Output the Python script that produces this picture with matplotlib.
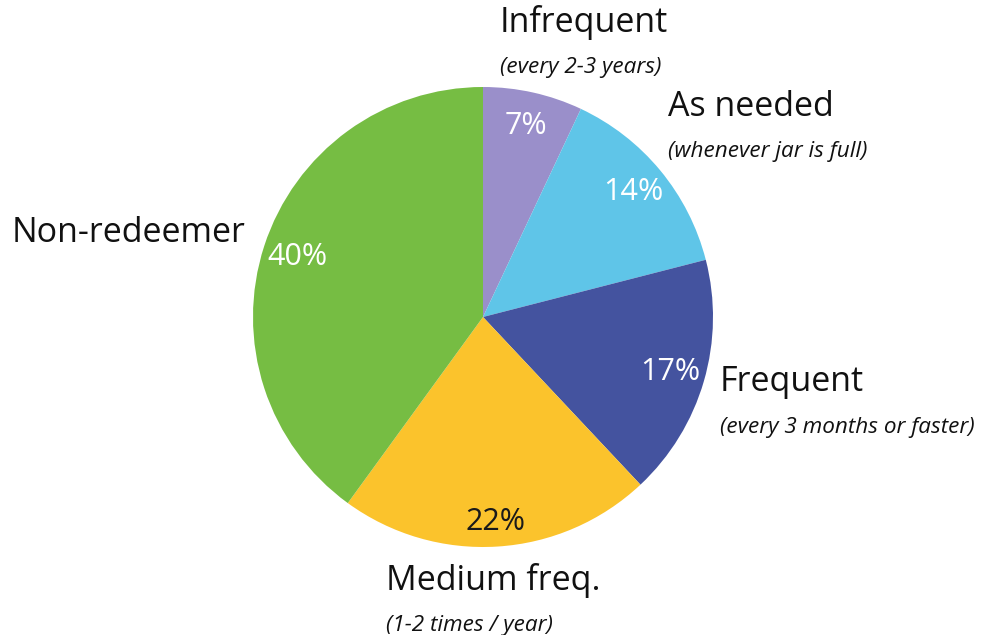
import matplotlib
matplotlib.use("Agg")
import matplotlib.pyplot as plt

categories = ["Infrequent", "As needed", "Frequent", "Medium freq.", "Non-redeemer"]
subtitles = ["(every 2-3 years)", "(whenever jar is full)", "(every 3 months or faster)",
             "(1-2 times / year)", ""]
values = [7, 14, 17, 22, 40]
colors = ["#9a8fca", "#5fc5e8", "#44539f", "#fbc32c", "#76bd43"]
pct_colors = ["white", "white", "white", "#1a1a1a", "white"]

# label anchor positions (pixel coords, origin top-left)
label_pos = [(500, 22), (668, 107), (720, 382), (386, 580), (12, 233)]
sub_offset = 45

W, H = 984, 635
fig = plt.figure(figsize=(W / 100, H / 100), dpi=100)
ax = fig.add_axes([0, 0, 1, 1])

fam = ["Open Sans", "DejaVu Sans"]
wedges, texts, autotexts = ax.pie(
    values, colors=colors, startangle=90, counterclock=False,
    center=(483, H - 317), radius=230, autopct="%d%%", pctdistance=0.85,
    wedgeprops=dict(linewidth=0), textprops=dict(fontsize=22, family=fam),
    frame=True)
ax.set_xlim(0, W)
ax.set_ylim(0, H)
ax.axis("off")
for t, c in zip(autotexts, pct_colors):
    t.set_color(c)
# the 22% label sits slightly further out in the reference
x0, y0 = 483, H - 317
tx, ty = autotexts[3].get_position()
autotexts[3].set_position((x0 + (tx - x0) * 1.05, y0 + (ty - y0) * 1.05))

for cat, sub, (x, y) in zip(categories, subtitles, label_pos):
    ax.text(x, H - y, cat, ha="left", va="center", fontsize=24.5, family=fam, color="#111111")
    if sub:
        ax.text(x, H - y - sub_offset, sub, ha="left", va="center", fontsize=16.2,
                style="italic", family=fam, color="#111111")

fig.savefig("out.png", dpi=100)
